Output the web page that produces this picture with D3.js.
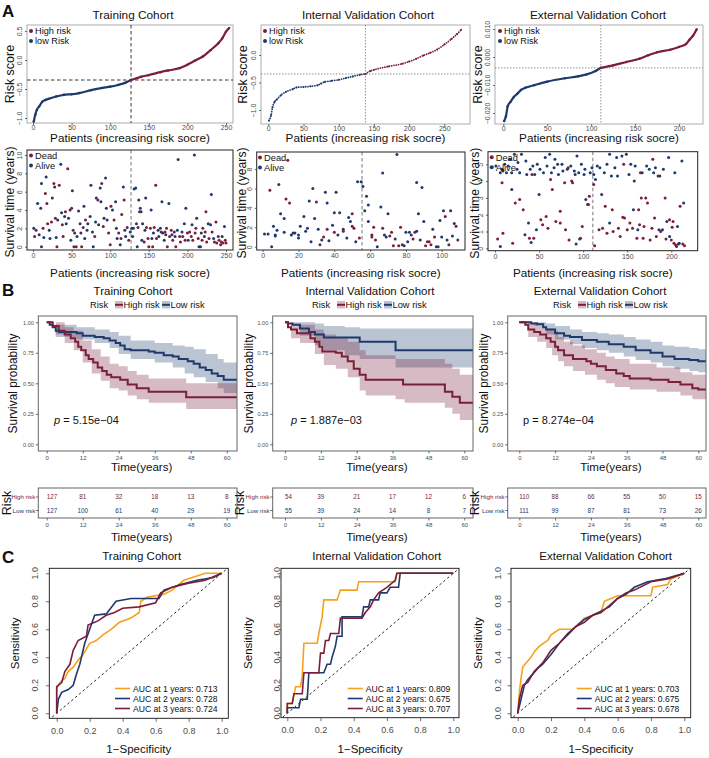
<!DOCTYPE html>
<html>
<head>
<meta charset="utf-8">
<script src="https://cdn.jsdelivr.net/npm/d3@7"></script>
<style>
  body { margin: 0; background: #fff; }
  svg { display: block; }
  text { font-family: "Liberation Sans", Arial, sans-serif; }
</style>
</head>
<body>
<div id="chart"></div>
<script>
// ---- Data -------------------------------------------------------

const COHORTS = ['Training Cohort', 'Internal Validation Cohort', 'External Validation Cohort'];

// risk score curve, [patient, score]
const RISK_TRAIN = [[1,-1.06],[3,-0.94],[5,-0.86],[8,-0.8],[12,-0.72],[16,-0.69],[20,-0.67],[30,-0.63],[40,-0.6],[50,-0.59],[60,-0.57],[75,-0.52],[90,-0.48],[100,-0.46],[110,-0.43],[120,-0.39],[127,-0.345],[140,-0.29],[150,-0.26],[165,-0.21],[175,-0.18],[190,-0.14],[200,-0.08],[210,-0.01],[220,0.06],[230,0.17],[240,0.29],[245,0.37],[250,0.49],[254,0.55]];
const RISK_INTERNAL = [[1,-1.19],[4,-1.09],[6,-0.95],[9,-0.85],[12,-0.81],[18,-0.73],[25,-0.67],[35,-0.62],[40,-0.59],[50,-0.58],[60,-0.57],[70,-0.55],[75,-0.52],[80,-0.49],[90,-0.47],[100,-0.45],[110,-0.42],[120,-0.39],[130,-0.36],[138,-0.345],[145,-0.29],[150,-0.27],[170,-0.21],[190,-0.16],[200,-0.12],[210,-0.07],[220,-0.01],[230,0.04],[240,0.1],[250,0.19],[260,0.29],[268,0.38],[274,0.46]];
const RISK_EXTERNAL = [[1,-0.0229],[3,-0.0212],[5,-0.0176],[8,-0.0161],[12,-0.0143],[16,-0.0131],[20,-0.0118],[25,-0.011],[35,-0.0101],[50,-0.0088],[70,-0.0076],[85,-0.0069],[95,-0.0062],[105,-0.005],[111,-0.0039],[125,-0.003],[140,-0.0018],[155,-0.0006],[165,0.0006],[175,0.0017],[190,0.0026],[200,0.0036],[208,0.0046],[212,0.0062],[216,0.0076],[220,0.0098]];

// cut-off [patient, score]
const CUTOFF = [[127,-0.345],[138,-0.345],[111,-0.0039]];

const RISK_X_DOMAIN = [[0,250],[0,250],[0,200]];
const RISK_Y_DOMAIN = [[-1,0.5],[-1,0],[-0.02,0.01]];
const RISK_Y_TICKS = [[-1,-0.5,0,0.5],[-1,-0.5,0],[-0.02,-0.01,0,0.01]];
const RISK_X_TICKS = [[0,50,100,150,200,250],[0,50,100,150,200,250],[0,50,100,150,200]];

// survival status, [patient, years, dead]
const SURV_TRAIN = [[1,2.0,0],[2,1.1,1],[4,1.8,1],[6,4.7,0],[8,1.3,0],[10,4.2,0],[11,0.0,0],[11,6.9,0],[13,2.0,1],[14,1.0,0],[16,5.8,1],[17,7.6,0],[18,4.7,1],[19,2.5,1],[21,1.8,0],[22,0.9,0],[24,2.7,1],[25,5.3,0],[27,6.9,1],[28,6.5,0],[29,3.1,1],[30,1.0,0],[31,0.0,1],[32,2.9,0],[34,6.7,1],[36,9.0,0],[37,3.7,0],[38,2.4,1],[39,1.1,1],[41,3.3,0],[42,3.8,1],[43,2.5,0],[45,8.5,1],[46,3.1,0],[48,4.0,0],[49,0.7,0],[50,4.2,1],[51,6.1,0],[52,1.8,1],[53,0.0,1],[54,1.5,0],[56,0.0,1],[57,1.1,0],[59,3.9,0],[61,2.5,0],[62,1.5,0],[63,0.0,1],[65,2.1,1],[66,4.4,0],[67,0.9,0],[68,2.9,1],[70,1.8,0],[71,2.5,0],[74,3.3,0],[75,6.7,0],[77,1.6,0],[78,0.0,0],[80,1.1,1],[81,2.7,0],[82,5.3,0],[84,5.1,1],[85,2.4,0],[87,6.4,0],[88,4.9,0],[89,6.9,1],[91,2.2,1],[92,3.1,0],[94,7.5,0],[95,4.2,0],[96,2.9,0],[98,1.5,1],[100,0.2,1],[101,4.4,1],[103,4.0,0],[105,2.9,1],[107,4.9,0],[108,2.0,0],[109,0.9,0],[111,1.5,1],[113,0.2,0],[114,0.9,1],[115,3.5,1],[117,6.5,0],[118,5.1,1],[119,1.8,0],[120,1.1,0],[122,2.1,1],[124,0.7,1],[126,1.6,0],
  [128,2.0,0],[129,1.1,0],[130,2.0,0],[131,6.3,0],[133,6.4,0],[134,2.5,0],[135,0.0,0],[136,2.1,1],[137,5.1,0],[138,3.8,1],[139,4.2,0],[140,3.8,0],[141,0.7,0],[142,2.5,0],[144,0.5,1],[145,1.8,0],[146,5.3,0],[147,2.1,1],[149,0.9,1],[150,0.0,1],[152,2.0,1],[153,4.0,0],[154,0.9,0],[155,0.0,1],[156,1.5,0],[157,2.1,1],[159,6.7,1],[160,0.9,1],[162,1.8,0],[163,1.1,0],[165,2.0,0],[166,1.6,1],[167,4.9,0],[168,1.5,0],[170,0.7,0],[171,1.6,1],[172,1.3,0],[173,2.0,1],[174,0.0,1],[176,4.7,0],[177,1.1,1],[179,1.8,1],[180,1.3,0],[181,0.7,1],[183,1.6,1],[184,1.1,0],[185,0.0,1],[187,1.8,0],[188,9.5,0],[190,1.1,1],[191,0.5,1],[193,1.6,0],[194,1.1,1],[196,2.5,0],[197,0.7,1],[198,4.2,0],[200,1.5,1],[201,0.7,0],[203,1.6,1],[205,1.1,1],[206,2.4,0],[207,0.7,1],[209,10.0,0],[210,1.5,1],[211,2.0,1],[212,3.1,0],[214,0.9,1],[215,0.0,0],[217,0.0,0],[218,1.5,0],[219,0.7,1],[220,2.0,1],[222,1.1,0],[223,1.6,1],[224,3.8,1],[225,0.5,1],[227,2.5,0],[228,0.9,1],[230,2.4,0],[231,5.7,0],[232,1.6,1],[234,0.9,0],[235,0.5,1],[237,2.7,1],[238,0.4,1],[240,1.1,1],[241,0.7,1],[243,0.2,1],[244,0.5,1],[245,1.1,0],[246,0.4,1],[248,2.2,0],[249,0.7,1],[250,0.4,1]];
const SURV_INTERNAL = [[1,1.3,0],[3,1.3,0],[4,5.8,1],[5,0.0,0],[6,2.1,0],[7,1.2,0],[7,1.1,0],[8,1.7,0],[9,6.4,0],[10,3.4,0],[12,1.5,0],[12,2.9,0],[13,4.9,1],[14,8.9,1],[15,4.5,1],[16,1.2,0],[17,1.4,0],[18,1.4,0],[20,1.2,0],[20,0.9,0],[21,2.1,0],[23,3.1,0],[24,1.6,0],[25,1.9,0],[26,4.7,0],[27,0.5,0],[28,6.0,0],[29,2.9,0],[30,4.6,1],[31,1.8,0],[32,0.2,1],[33,0.7,0],[34,1.0,1],[35,5.6,0],[36,1.8,1],[36,4.5,0],[37,0.6,0],[39,2.2,0],[40,3.5,0],[40,1.5,1],[41,5.6,0],[42,1.2,0],[43,3.5,0],[45,1.6,1],[45,1.8,0],[47,0.9,0],[48,3.0,0],[49,2.6,0],[50,2.1,1],[50,3.4,1],[51,1.9,1],[52,0.5,0],[53,6.7,0],[54,0.9,1],[55,6.7,0],[56,6.2,0],[57,3.7,0],[58,5.2,0],[59,4.3,0],[59,2.6,0],[61,1.2,1],[61,1.0,1],[62,2.0,1],[63,0.7,1],[64,0.0,0],[66,4.1,0],[67,7.6,0],[67,1.9,1],[68,1.2,0],[69,1.0,0],[70,3.4,0],[71,1.1,1],[72,1.5,1],[73,0.1,1],[74,0.8,0],[75,9.5,0],[76,0.1,1],[77,2.0,1],[78,0.2,1],[79,0.1,0],[80,1.5,0],[81,0.5,0],[82,1.5,0],[83,1.2,0],[84,0.8,1],[85,1.5,1],[86,1.6,0],[86,6.6,0],[87,3.4,0],[88,0.7,0],[89,6.1,0],[90,2.6,0],[91,0.1,1],[92,0.5,1],[93,0.5,1],[94,0.2,1],[95,1.8,0],[96,1.0,1],[97,0.0,0],[98,0.0,0],[99,2.7,0],[100,1.0,0],[101,3.7,0],[102,3.1,1],[103,0.7,0],[104,0.2,1],[105,3.7,0],[106,1.1,0],[107,2.4,0],[108,2.1,1],[109,0.7,1]];
const SURV_EXTERNAL = [[1,4.9,0],[3,0.55,1],[6,0.1,0],[6,4.5,0],[8,3.9,1],[8,4.7,0],[9,0.9,1],[9,4.6,0],[11,5.0,0],[13,4.5,0],[15,4.9,0],[17,5.3,0],[19,4.5,0],[19,3.5,0],[20,0.3,1],[22,5.6,0],[23,2.7,1],[25,4.7,0],[26,5.1,0],[28,2.9,1],[28,4.5,0],[30,5.6,0],[32,2.3,1],[34,0.8,0],[35,5.2,0],[36,4.4,0],[38,1.5,0],[39,0.6,1],[40,4.7,0],[41,0.35,0],[42,4.4,1],[43,4.9,0],[44,0.6,1],[45,4.4,0],[47,1.1,0],[48,5.0,0],[50,3.2,0],[51,4.7,0],[52,1.7,1],[54,1.4,1],[55,4.5,0],[57,5.4,0],[58,1.9,1],[59,4.9,0],[60,1.2,1],[62,5.6,0],[63,4.1,1],[64,4.5,0],[65,3.5,1],[67,4.8,0],[68,5.3,0],[69,1.6,1],[71,5.0,0],[72,4.4,0],[74,2.2,1],[74,1.5,1],[76,5.0,0],[77,4.6,0],[79,3.9,1],[80,1.1,1],[82,4.7,0],[83,4.8,1],[84,0.5,1],[86,4.9,0],[87,4.0,1],[88,3.9,1],[90,4.6,0],[91,4.4,0],[92,0.25,0],[93,5.5,0],[95,4.5,0],[96,0.55,0],[97,0.6,1],[98,5.0,0],[99,1.3,1],[101,4.4,0],[102,4.7,0],[103,2.9,0],[105,2.6,1],[106,2.6,1],[107,3.1,1],[108,4.5,0],[110,4.8,0],
  [112,3.8,1],[112,4.4,0],[113,0.15,1],[114,4.1,0],[116,4.9,0],[118,1.1,1],[119,4.8,0],[121,3.2,0],[122,1.2,1],[124,4.5,0],[125,2.5,1],[127,5.0,0],[127,0.9,1],[130,5.6,0],[130,1.5,0],[132,4.3,0],[133,2.3,1],[134,1.0,1],[136,4.8,0],[138,5.4,0],[139,4.3,0],[140,1.2,1],[142,0.7,1],[144,5.5,0],[145,1.85,1],[146,5.0,1],[147,1.8,1],[149,5.6,0],[150,1.1,1],[152,4.4,0],[153,1.5,1],[154,5.0,0],[156,1.2,1],[157,2.3,0],[158,4.0,0],[159,4.9,0],[161,0.6,1],[162,1.1,0],[163,2.3,1],[164,1.4,1],[165,4.5,1],[166,3.0,1],[167,4.5,0],[168,0.6,1],[169,1.3,1],[171,3.0,1],[172,4.9,0],[173,2.7,1],[175,4.7,0],[176,0.5,1],[178,1.2,1],[179,5.3,1],[180,4.5,0],[181,1.8,1],[182,4.8,0],[183,0.7,1],[185,4.3,1],[186,1.1,0],[187,4.3,0],[188,1.0,1],[190,1.1,0],[191,4.7,0],[193,3.0,1],[194,0.55,1],[195,1.6,0],[197,5.4,0],[198,1.7,1],[198,0.7,0],[200,0.5,1],[201,1.25,1],[202,1.6,1],[203,0.3,1],[204,4.5,0],[205,0.2,1],[206,0.1,1],[207,1.3,0],[208,0.25,1],[209,0.3,0],[210,2.5,1],[212,5.2,0],[213,0.25,1],[214,2.7,0],[215,0.15,1]];

const SURV_X_DOMAIN = [[0,250],[0,100],[0,200]];
const SURV_Y_DOMAIN = [[0,10],[0,8],[0,5]];
const SURV_X_TICKS = [[0,50,100,150,200,250],[0,20,40,60,80,100],[0,50,100,150,200]];
const SURV_Y_TICKS = [[0,2,4,6,8,10],[0,2,4,6,8],[0,1,2,3,4,5]];
const SURV_CUT = [127, 55.5, 111];

// Kaplan-Meier, [month, survival]
const KM_TRAIN_HIGH = [[0,1],[2,0.97],[4,0.93],[6,0.9],[8,0.87],[9.5,0.84],[10.5,0.8],[11.5,0.77],[13,0.73],[14,0.7],[15.5,0.67],[17,0.63],[18.5,0.6],[20,0.57],[21.5,0.55],[24.5,0.53],[27,0.49],[30,0.46],[34,0.43],[46.5,0.385],[63.4,0.385]];
const KM_TRAIN_LOW = [[0,1],[1,0.98],[2,0.96],[3,0.93],[4,0.92],[10,0.91],[12,0.89],[16,0.88],[19,0.87],[21,0.85],[23,0.83],[24.5,0.81],[26,0.78],[28,0.77],[34,0.76],[36,0.75],[39,0.73],[42,0.72],[44,0.7],[47,0.68],[49,0.66],[51,0.63],[53,0.61],[55,0.58],[57,0.56],[59,0.53],[63.4,0.53]];
const KM_INT_HIGH = [[0,1],[1,0.96],[2,0.94],[4,0.91],[8.5,0.87],[10,0.84],[11.5,0.8],[12.5,0.76],[17,0.75],[19,0.72],[21,0.68],[23,0.62],[25,0.57],[27,0.53],[39.5,0.49],[53.5,0.43],[56,0.39],[58.5,0.34],[63.4,0.34]];
const KM_INT_LOW = [[0,1],[1,0.99],[2.5,0.98],[5,0.95],[8,0.92],[10,0.9],[13,0.875],[25,0.84],[37,0.77],[63.4,0.77]];
const KM_EXT_HIGH = [[0,1],[2,0.98],[3,0.94],[5,0.92],[7,0.9],[9,0.87],[10.5,0.84],[12,0.8],[13,0.77],[15,0.73],[18,0.7],[22.5,0.68],[24,0.66],[26,0.64],[29,0.61],[32.5,0.58],[35,0.56],[37,0.54],[44,0.53],[50,0.51],[54,0.49],[58,0.46],[60,0.45],[63.4,0.45]];
const KM_EXT_LOW = [[0,1],[3,1],[4,0.99],[6,0.985],[8,0.96],[9,0.94],[12,0.91],[15,0.89],[17,0.88],[21,0.855],[26,0.84],[30,0.82],[35,0.8],[39,0.77],[44,0.75],[48,0.72],[52,0.7],[57,0.69],[60,0.68],[63.4,0.68]];

// confidence bands, [month, lower, upper]
const CI_TRAIN_HIGH = [[0,1,1],[3,0.9,1],[6,0.83,0.96],[9,0.77,0.93],[12,0.67,0.85],[15,0.58,0.78],[18,0.52,0.72],[21,0.46,0.66],[24,0.44,0.64],[27,0.4,0.6],[30,0.37,0.57],[34,0.34,0.54],[46.5,0.29,0.5],[63.4,0.29,0.5]];
const CI_TRAIN_LOW = [[0,1,1],[3,0.88,0.98],[10,0.86,0.96],[16,0.83,0.94],[21,0.79,0.92],[24,0.74,0.89],[28,0.7,0.85],[36,0.67,0.83],[42,0.63,0.81],[46,0.58,0.8],[49,0.55,0.78],[53,0.51,0.74],[57,0.46,0.7],[59,0.42,0.67],[63.4,0.42,0.67]];
const CI_INT_HIGH = [[0,1,1],[2,0.87,1],[5,0.83,0.98],[10,0.74,0.94],[13,0.65,0.9],[17,0.62,0.88],[21,0.55,0.84],[25,0.44,0.77],[27,0.4,0.73],[37,0.37,0.7],[40,0.34,0.7],[53.5,0.3,0.66],[56,0.25,0.62],[58.5,0.2,0.57],[63.4,0.2,0.57]];
const CI_INT_LOW = [[0,1,1],[5,0.89,1],[10,0.81,0.99],[13,0.77,0.97],[20,0.73,0.96],[25,0.7,0.95],[37,0.63,0.95],[63.4,0.63,0.95]];
const CI_EXT_HIGH = [[0,1,1],[3,0.88,1],[6,0.84,0.97],[9,0.79,0.95],[11,0.73,0.93],[13,0.68,0.88],[15,0.64,0.84],[18,0.6,0.81],[22,0.57,0.78],[26,0.53,0.75],[29,0.5,0.72],[32,0.47,0.7],[37,0.45,0.66],[46,0.43,0.63],[54,0.4,0.59],[58,0.37,0.57],[63.4,0.35,0.56]];
const CI_EXT_LOW = [[0,1,1],[5,0.97,1],[9,0.9,0.99],[12,0.86,0.97],[17,0.82,0.94],[21,0.79,0.92],[26,0.77,0.91],[30,0.75,0.9],[35,0.72,0.88],[39,0.69,0.86],[44,0.67,0.84],[48,0.64,0.81],[52,0.62,0.8],[57,0.6,0.79],[60,0.59,0.78],[63.4,0.59,0.78]];

const P_VALUES = ['5.15e\u221204', '1.887e\u221203', '8.274e\u221204'];
const KM_TICKS = [0, 12, 24, 36, 48, 60];
const SURV_PROB_TICKS = [0, 0.25, 0.5, 0.75, 1];

// numbers at risk
const AT_RISK_HIGH = [[127,81,32,18,13,8],[54,39,21,17,12,6],[110,88,66,55,50,15]];
const AT_RISK_LOW = [[127,100,61,40,29,19],[55,39,24,14,8,7],[111,99,87,81,73,26]];

// ROC, [1-specificity, sensitivity]
const ROC_TRAIN_1 = [[0,0],[0,0.18],[0.02,0.22],[0.05,0.25],[0.07,0.3],[0.1,0.33],[0.13,0.38],[0.16,0.42],[0.2,0.5],[0.24,0.52],[0.28,0.56],[0.33,0.6],[0.38,0.65],[0.45,0.68],[0.5,0.72],[0.51,0.8],[0.55,0.83],[0.65,0.85],[0.7,0.88],[0.77,0.95],[0.85,0.98],[0.9,1],[1,1]];
const ROC_TRAIN_2 = [[0,0],[0.01,0.1],[0.03,0.15],[0.07,0.17],[0.1,0.2],[0.12,0.28],[0.14,0.35],[0.17,0.5],[0.2,0.6],[0.23,0.7],[0.3,0.71],[0.36,0.8],[0.45,0.82],[0.62,0.82],[0.65,0.88],[0.75,0.92],[0.85,0.95],[0.95,0.97],[1,1]];
const ROC_TRAIN_3 = [[0,0],[0,0.19],[0.03,0.22],[0.05,0.3],[0.08,0.35],[0.1,0.45],[0.13,0.52],[0.18,0.55],[0.19,0.63],[0.25,0.66],[0.3,0.7],[0.35,0.72],[0.4,0.75],[0.5,0.76],[0.6,0.79],[0.63,0.86],[0.7,0.9],[0.8,0.93],[0.9,0.95],[1,1]];
const ROC_INT_1 = [[0,0],[0,0.07],[0.03,0.07],[0.05,0.19],[0.08,0.19],[0.09,0.27],[0.1,0.5],[0.18,0.5],[0.19,0.57],[0.2,0.63],[0.21,0.69],[0.22,0.81],[0.3,0.81],[0.32,0.88],[0.42,0.88],[0.43,0.94],[0.65,0.94],[0.66,1],[1,1]];
const ROC_INT_2 = [[0,0],[0,0.04],[0.07,0.04],[0.08,0.1],[0.12,0.1],[0.13,0.29],[0.22,0.29],[0.24,0.35],[0.26,0.35],[0.27,0.4],[0.29,0.48],[0.3,0.55],[0.33,0.55],[0.33,0.69],[0.45,0.69],[0.46,0.76],[0.49,0.76],[0.5,0.81],[0.55,0.81],[0.56,0.86],[0.6,0.86],[0.62,0.9],[0.67,0.9],[0.68,1],[1,1]];
const ROC_INT_3 = [[0,0],[0,0.07],[0.03,0.07],[0.04,0.14],[0.09,0.14],[0.1,0.29],[0.19,0.29],[0.2,0.43],[0.22,0.43],[0.23,0.52],[0.25,0.52],[0.26,0.57],[0.31,0.57],[0.32,0.68],[0.45,0.68],[0.47,0.72],[0.5,0.76],[0.52,0.81],[0.55,0.86],[0.6,0.9],[0.65,0.95],[0.66,1],[1,1]];
const ROC_EXT_1 = [[0,0],[0.01,0.15],[0.02,0.25],[0.03,0.33],[0.05,0.36],[0.08,0.4],[0.1,0.44],[0.13,0.48],[0.18,0.52],[0.2,0.56],[0.25,0.6],[0.33,0.6],[0.4,0.68],[0.5,0.72],[0.52,0.8],[0.6,0.84],[0.8,0.84],[0.81,0.9],[0.9,0.92],[0.92,0.96],[1,1]];
const ROC_EXT_2 = [[0,0],[0.02,0.1],[0.04,0.2],[0.06,0.24],[0.09,0.28],[0.12,0.32],[0.15,0.35],[0.2,0.42],[0.25,0.5],[0.3,0.56],[0.35,0.62],[0.4,0.67],[0.45,0.7],[0.5,0.73],[0.55,0.76],[0.6,0.82],[0.65,0.85],[0.7,0.9],[0.78,0.94],[0.88,0.96],[1,1]];
const ROC_EXT_3 = [[0,0],[0.01,0.1],[0.03,0.2],[0.06,0.22],[0.1,0.3],[0.15,0.36],[0.2,0.45],[0.25,0.5],[0.3,0.57],[0.35,0.62],[0.4,0.65],[0.45,0.7],[0.5,0.72],[0.55,0.77],[0.6,0.82],[0.65,0.86],[0.7,0.88],[0.8,0.94],[0.9,0.96],[1,1]];

const AUC = [['0.713','0.728','0.724'],['0.809','0.675','0.707'],['0.703','0.675','0.678']];
const ROC_TICKS = [0, 0.2, 0.4, 0.6, 0.8, 1];

// ---- Style / layout ---------------------------------------------

const RED = '#7B1E3C', BLUE = '#1E3A6D', ORANGE = '#F7A11A';
const TICK_COL = '#4d4d4d';
const FONT = '"Liberation Sans", Arial, sans-serif';

const svg = d3.select('#chart').append('svg')
  .attr('width', 709).attr('height', 758)
  .style('background', '#fff');

function txt(x, y, s, size, opts = {}) {
  const t = svg.append('text')
    .attr('x', x).attr('y', y)
    .attr('font-size', size)
    .attr('fill', opts.fill || '#111')
    .attr('text-anchor', opts.anchor || 'middle')
    .text(s);
  if (opts.rotate) t.attr('transform', `rotate(-90,${x},${y})`);
  if (opts.weight) t.attr('font-weight', opts.weight);
  return t;
}

function frame(b, color, w) {
  svg.append('rect')
    .attr('x', b[0]).attr('y', b[1])
    .attr('width', b[2] - b[0]).attr('height', b[3] - b[1])
    .attr('fill', 'none').attr('stroke', color).attr('stroke-width', w);
}

function xAxis(scale, y, ticks, fmt, size, tick = 3, pad = 2) {
  const g = svg.append('g').attr('transform', `translate(0,${y})`)
    .call(d3.axisBottom(scale).tickValues(ticks).tickSize(tick).tickPadding(pad).tickFormat(fmt));
  g.select('.domain').remove();
  g.selectAll('line').attr('stroke', '#333').attr('stroke-width', 0.7);
  g.selectAll('text').attr('font-size', size).attr('fill', TICK_COL).attr('font-family', FONT);
  return g;
}

// y axis with labels turned 90 degrees (R style)
function yAxisRot(scale, x, ticks, fmt, size, off, tick = 3) {
  const g = svg.append('g').attr('transform', `translate(${x},0)`)
    .call(d3.axisLeft(scale).tickValues(ticks).tickSize(tick).tickFormat(fmt));
  g.select('.domain').remove();
  g.selectAll('line').attr('stroke', '#333').attr('stroke-width', 0.7);
  g.selectAll('text')
    .attr('font-size', size).attr('fill', TICK_COL).attr('font-family', FONT)
    .attr('text-anchor', 'middle')
    .attr('transform', 'rotate(-90)')
    .attr('x', 0).attr('y', -off).attr('dy', 0);
  return g;
}

function yAxisPlain(scale, x, ticks, fmt, size) {
  const g = svg.append('g').attr('transform', `translate(${x},0)`)
    .call(d3.axisLeft(scale).tickValues(ticks).tickSize(2.5).tickPadding(2).tickFormat(fmt));
  g.select('.domain').remove();
  g.selectAll('line').attr('stroke', '#333').attr('stroke-width', 0.7);
  g.selectAll('text').attr('font-size', size).attr('fill', TICK_COL).attr('font-family', FONT);
  return g;
}

// panel letters
txt(2, 17, 'A', 17, { anchor: 'start', weight: 'bold' });
txt(2, 296, 'B', 17, { anchor: 'start', weight: 'bold' });
txt(2, 563, 'C', 17, { anchor: 'start', weight: 'bold' });

// ---- A, row 1: risk score ---------------------------------------

const RISK_DATA = [RISK_TRAIN, RISK_INTERNAL, RISK_EXTERNAL];
const A1 = [
  { frame: [27, 25, 233, 123], x: [33, 226], y: [118, 31], title: 133, ylab: 10, dot: 31 },
  { frame: [261, 25, 470, 124], x: [268.3, 444.3], y: [110, 55], title: 368, ylab: 243, dot: 265 },
  { frame: [495, 25, 703, 124], x: [503.3, 679], y: [113, 29], title: 598, ylab: 478, dot: 500 }
];
const riskFmt = [d3.format('.1f'), d3.format('.1f'), d3.format('.3f')];

A1.forEach((L, i) => {
  const x = d3.scaleLinear().domain(RISK_X_DOMAIN[i]).range(L.x);
  const y = d3.scaleLinear().domain(RISK_Y_DOMAIN[i]).range(L.y);
  frame(L.frame, '#9a9a9a', 0.8);
  txt(L.title, 19, COHORTS[i], 11.8);
  xAxis(x, L.frame[3], RISK_X_TICKS[i], d3.format('d'), 7, 2, 0.5);
  yAxisRot(y, L.frame[0], RISK_Y_TICKS[i], riskFmt[i], 7, 5, 2);
  txt(L.ylab, (L.frame[1] + L.frame[3]) / 2, 'Risk score', 12.5, { rotate: true, anchor: 'middle' })
    .attr('dy', '0.35em');
  txt((L.frame[0] + L.frame[2]) / 2, 142, 'Patients (increasing risk socre)', 11.7);

  const cut = CUTOFF[i];
  const dashed = i === 0;
  const lc = dashed ? '#222' : '#888';
  const da = dashed ? '3.5,2.5' : '1.5,1.5';
  svg.append('line').attr('x1', L.frame[0]).attr('x2', L.frame[2])
    .attr('y1', y(cut[1])).attr('y2', y(cut[1]))
    .attr('stroke', lc).attr('stroke-width', 0.9).attr('stroke-dasharray', da);
  svg.append('line').attr('x1', x(cut[0])).attr('x2', x(cut[0]))
    .attr('y1', L.frame[1]).attr('y2', L.frame[3])
    .attr('stroke', lc).attr('stroke-width', 0.9).attr('stroke-dasharray', da);

  const data = RISK_DATA[i];
  const low = data.filter(d => d[0] <= cut[0]);
  const high = data.filter(d => d[0] >= cut[0]);
  const line = d3.line().x(d => x(d[0])).y(d => y(d[1])).curve(d3.curveMonotoneX);
  [[low, BLUE], [high, RED]].forEach(([pts, col]) => {
    const p = svg.append('path').attr('d', line(pts)).attr('fill', 'none')
      .attr('stroke', col).attr('stroke-linecap', 'round');
    if (i === 1) p.attr('stroke-width', 1.8).attr('stroke-dasharray', '0.01,2.3');
    else p.attr('stroke-width', 2.2);
    svg.append('g').selectAll('circle').data(pts).join('circle')
      .attr('cx', d => x(d[0])).attr('cy', d => y(d[1]))
      .attr('r', i === 1 ? 1 : 1.2).attr('fill', col);
  });

  // legend
  [['High risk', RED, 31], ['low Risk', BLUE, 41]].forEach(([s, c, yy]) => {
    svg.append('circle').attr('cx', L.dot).attr('cy', yy).attr('r', 2).attr('fill', c);
    txt(L.dot + 4, yy + 3.2, s, 9.2, { anchor: 'start' });
  });
});

// ---- A, row 2: survival status ----------------------------------

const SURV_DATA = [SURV_TRAIN, SURV_INTERNAL, SURV_EXTERNAL];
const A2 = [
  { frame: [27, 150, 233, 250], x: [33, 226], y: [246.7, 155], ylab: 10, dot: 31 },
  { frame: [256.7, 152, 465, 250], x: [262.7, 441.7], y: [246.7, 169], ylab: 242, dot: 260 },
  { frame: [488, 151.7, 697.7, 250.7], x: [495, 671.3], y: [248.3, 164.3], ylab: 475, dot: 491.7 }
];

A2.forEach((L, i) => {
  const x = d3.scaleLinear().domain(SURV_X_DOMAIN[i]).range(L.x);
  const y = d3.scaleLinear().domain(SURV_Y_DOMAIN[i]).range(L.y);
  xAxis(x, L.frame[3], SURV_X_TICKS[i], d3.format('d'), 7, 2, 1);
  yAxisRot(y, L.frame[0], SURV_Y_TICKS[i], d3.format('d'), 7, 5, 2);
  txt(L.ylab, (L.frame[1] + L.frame[3]) / 2 + 2, 'Survival time (years)', 12.2, { rotate: true })
    .attr('dy', '0.35em');
  txt((L.frame[0] + L.frame[2]) / 2, 277, 'Patients (increasing risk socre)', 11.7);

  svg.append('line').attr('x1', x(SURV_CUT[i])).attr('x2', x(SURV_CUT[i]))
    .attr('y1', L.frame[1]).attr('y2', L.frame[3])
    .attr('stroke', '#777').attr('stroke-width', 1).attr('stroke-dasharray', '3.5,2.5');

  svg.append('g').selectAll('circle').data(SURV_DATA[i]).join('circle')
    .attr('cx', d => x(d[0])).attr('cy', d => y(d[1]))
    .attr('r', 1.5)
    .attr('fill', d => d[2] ? RED : BLUE);

  frame(L.frame, '#222', 1);

  [['Dead', RED, L.frame[1] + 5.5], ['Alive', BLUE, L.frame[1] + 15.5]].forEach(([s, c, yy]) => {
    svg.append('circle').attr('cx', L.dot).attr('cy', yy).attr('r', 2).attr('fill', c);
    txt(L.dot + 4, yy + 3.3, s, 9.3, { anchor: 'start' });
  });
});

// ---- B: Kaplan-Meier --------------------------------------------

const KM = [
  [KM_TRAIN_HIGH, KM_TRAIN_LOW, CI_TRAIN_HIGH, CI_TRAIN_LOW],
  [KM_INT_HIGH, KM_INT_LOW, CI_INT_HIGH, CI_INT_LOW],
  [KM_EXT_HIGH, KM_EXT_LOW, CI_EXT_HIGH, CI_EXT_LOW]
];
const B = [
  { frame: [38.3, 316, 237, 451], x: [46.7, 226.7], title: 133, ylab: 13, leg: 90, px: 54, tbl: [38.3, 488, 237, 518], risk: 7 },
  { frame: [272.7, 316, 473, 451], x: [285, 464.3], title: 370, ylab: 248.5, leg: 312, px: 291, tbl: [272.7, 488, 473, 518], risk: 240 },
  { frame: [507.7, 316, 706, 451], x: [519.3, 698.3], title: 600, ylab: 483.5, leg: 553, px: 523, tbl: [507.7, 488, 706, 518], risk: 475 }
];

B.forEach((L, i) => {
  const x = d3.scaleLinear().domain([0, 60]).range(L.x);
  const y = d3.scaleLinear().domain([0, 1]).range([444.3, 322.3]);
  const [hi, lo, ciHi, ciLo] = KM[i];

  txt(L.title, 295, COHORTS[i], 11.5);
  // legend
  txt(L.leg, 308, 'Risk', 9.3, { anchor: 'start' });
  const legItems = [['High risk', RED], ['Low risk', BLUE]];
  let lx = L.leg + 25;
  legItems.forEach(([s, c]) => {
    svg.append('rect').attr('x', lx).attr('y', 301).attr('width', 8).attr('height', 7.5)
      .attr('fill', c).attr('fill-opacity', 0.3);
    svg.append('line').attr('x1', lx).attr('x2', lx + 8).attr('y1', 304.8).attr('y2', 304.8)
      .attr('stroke', c).attr('stroke-width', 2);
    txt(lx + 8.5, 308.3, s, 9.3, { anchor: 'start' });
    lx += 47;
  });

  const clipId = `kmclip${i}`;
  svg.append('clipPath').attr('id', clipId).append('rect')
    .attr('x', L.frame[0]).attr('y', L.frame[1])
    .attr('width', L.frame[2] - L.frame[0]).attr('height', L.frame[3] - L.frame[1]);
  const g = svg.append('g').attr('clip-path', `url(#${clipId})`);

  const area = d3.area().x(d => x(d[0])).y0(d => y(d[1])).y1(d => y(d[2])).curve(d3.curveStepAfter);
  g.append('path').attr('d', area(ciLo)).attr('fill', BLUE).attr('fill-opacity', 0.3);
  g.append('path').attr('d', area(ciHi)).attr('fill', RED).attr('fill-opacity', 0.3);

  const line = d3.line().x(d => x(d[0])).y(d => y(d[1])).curve(d3.curveStepAfter);
  g.append('path').attr('d', line(lo)).attr('fill', 'none').attr('stroke', BLUE).attr('stroke-width', 2);
  g.append('path').attr('d', line(hi)).attr('fill', 'none').attr('stroke', RED).attr('stroke-width', 2);

  frame(L.frame, '#666', 1);
  xAxis(x, L.frame[3], KM_TICKS, d3.format('d'), 6, 2.5, 2);
  yAxisPlain(y, L.frame[0], SURV_PROB_TICKS, d3.format('.2f'), 5.5);
  txt(L.ylab, (L.frame[1] + L.frame[3]) / 2, 'Survival probability', 11.9, { rotate: true }).attr('dy', '0.35em');
  txt((L.frame[0] + L.frame[2]) / 2 + 4, 471, 'Time(years)', 11.6);

  const pt = txt(L.px, 424, '', 11, { anchor: 'start' });
  pt.append('tspan').attr('font-style', i === 2 ? 'normal' : 'italic').text('p');
  pt.append('tspan').text(' = ' + P_VALUES[i]);

  // numbers at risk table
  const T = L.tbl;
  frame(T, '#666', 1);
  const rows = [[AT_RISK_HIGH[i], RED, 'High risk', 497], [AT_RISK_LOW[i], BLUE, 'Low risk', 510.5]];
  rows.forEach(([vals, c, lab, yy]) => {
    svg.append('g').selectAll('text').data(vals).join('text')
      .attr('x', (d, k) => x(KM_TICKS[k])).attr('y', yy)
      .attr('dy', '0.35em')
      .attr('text-anchor', (d, k) => k === 0 ? 'start' : 'middle')
      .attr('font-size', 6.3).attr('fill', c)
      .text(d => d);
    txt(T[0] - 3, yy, lab, 6.2, { anchor: 'end', fill: c }).attr('dy', '0.35em');
    svg.append('line').attr('x1', T[0] - 2.5).attr('x2', T[0]).attr('y1', yy).attr('y2', yy)
      .attr('stroke', '#333').attr('stroke-width', 0.7);
  });
  xAxis(x, T[3], KM_TICKS, d3.format('d'), 6, 2.5, 2);
  txt(L.risk, (T[1] + T[3]) / 2, 'Risk', 12.5, { rotate: true }).attr('dy', '0.35em');
  txt((T[0] + T[2]) / 2 + 4, 541, 'Time(years)', 11.6);
});

// ---- C: time-dependent ROC --------------------------------------

const ROC = [
  [ROC_TRAIN_1, ROC_TRAIN_2, ROC_TRAIN_3],
  [ROC_INT_1, ROC_INT_2, ROC_INT_3],
  [ROC_EXT_1, ROC_EXT_2, ROC_EXT_3]
];
const ROC_COL = [ORANGE, BLUE, RED];
const C = [
  { frame: [49.3, 568.3, 228.3, 718.3], x: [56.7, 221.7], title: 141.7, ytick: 35, ylab: 15, leg: 115 },
  { frame: [281, 568.3, 459, 717.7], x: [287.3, 453.3], title: 376.7, ytick: 276.7, ylab: 248.3, leg: 347.7 },
  { frame: [511, 568.3, 690.7, 717.7], x: [517.7, 684.3], title: 605.7, ytick: 498.3, ylab: 477.7, leg: 576.7 }
];

C.forEach((L, i) => {
  const x = d3.scaleLinear().domain([0, 1]).range(L.x);
  const y = d3.scaleLinear().domain([0, 1]).range([713.3, 573.3]);
  txt(L.title, 559.5, COHORTS[i], 11.5);

  const clipId = `rocclip${i}`;
  svg.append('clipPath').attr('id', clipId).append('rect')
    .attr('x', L.frame[0]).attr('y', L.frame[1])
    .attr('width', L.frame[2] - L.frame[0]).attr('height', L.frame[3] - L.frame[1]);
  const g = svg.append('g').attr('clip-path', `url(#${clipId})`);
  g.append('line').attr('x1', x(-0.05)).attr('y1', y(-0.05)).attr('x2', x(1.05)).attr('y2', y(1.05))
    .attr('stroke', '#111').attr('stroke-width', 0.9).attr('stroke-dasharray', '2.5,2.5');

  const line = d3.line().x(d => x(d[0])).y(d => y(d[1]));
  ROC[i].forEach((pts, k) => {
    g.append('path').attr('d', line(pts)).attr('fill', 'none')
      .attr('stroke', ROC_COL[k]).attr('stroke-width', 1.6);
  });

  frame(L.frame, '#111', 0.9);
  xAxis(x, L.frame[3], ROC_TICKS, d3.format('.1f'), 9, 3.5).selectAll('text').attr('dy', '1.1em');
  const ya = svg.append('g').attr('transform', `translate(${L.frame[0]},0)`)
    .call(d3.axisLeft(y).tickValues(ROC_TICKS).tickSize(3.5).tickFormat(d3.format('.1f')));
  ya.select('.domain').remove();
  ya.selectAll('line').attr('stroke', '#333').attr('stroke-width', 0.7);
  ya.selectAll('text').remove();
  ROC_TICKS.forEach(t => {
    txt(L.ytick, y(t), d3.format('.1f')(t), 9, { rotate: true, fill: TICK_COL }).attr('dy', '0.35em');
  });
  txt(L.ylab, (L.frame[1] + L.frame[3]) / 2, 'Sensitivity', 11.5, { rotate: true }).attr('dy', '0.35em');
  txt((L.frame[0] + L.frame[2]) / 2, 753, '1\u2212Specificity', 11.5);

  [688.5, 698.5, 708.5].forEach((yy, k) => {
    svg.append('line').attr('x1', L.leg).attr('x2', L.leg + 15).attr('y1', yy).attr('y2', yy)
      .attr('stroke', ROC_COL[k]).attr('stroke-width', 1.6);
    txt(L.leg + 18, yy, `AUC at ${k + 1} years: ${AUC[i][k]}`, 8.6, { anchor: 'start' }).attr('dy', '0.35em');
  });
});
</script>
</body>
</html>
